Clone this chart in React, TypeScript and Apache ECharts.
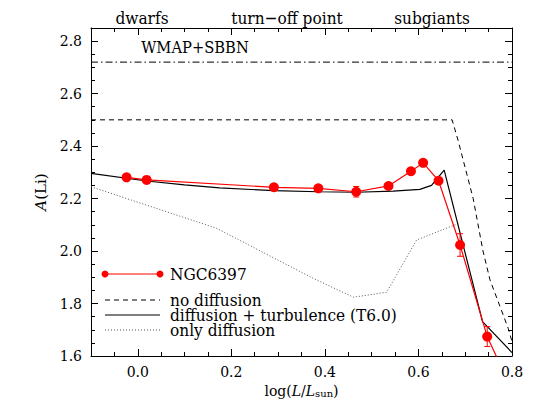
import React, { useEffect, useRef } from 'react';
import * as echarts from 'echarts';

const FONT = 'DejaVu Serif';

// Observations NGC6397
const obsX = [-0.024, 0.019, 0.291, 0.386, 0.467, 0.536, 0.584, 0.61, 0.643, 0.689, 0.747, 0.8];
const obsY = [2.281, 2.271, 2.243, 2.239, 2.226, 2.248, 2.304, 2.336, 2.268, 2.023, 1.674, 1.47];
const obsErr = [0.008, 0.008, 0.006, 0.006, 0.02, 0.008, 0.006, 0.006, 0.008, 0.043, 0.038, 0];

// diffusion + turbulence (T6.0)
const turbX = [-0.1, 0.019, 0.1, 0.175, 0.29, 0.386, 0.467, 0.546, 0.603, 0.628, 0.655, 0.737, 0.8];
const turbY = [2.296, 2.267, 2.252, 2.241, 2.23, 2.226, 2.224, 2.228, 2.235, 2.25, 2.308, 1.731, 1.613];

// only diffusion
const onlyX = [-0.1, 0.168, 0.375, 0.461, 0.532, 0.596, 0.687];
const onlyY = [2.245, 2.087, 1.896, 1.824, 1.843, 2.042, 2.106];

// no diffusion
const noX = [-0.1, 0.672, 0.685, 0.717, 0.738, 0.753, 0.792, 0.8];
const noY = [2.5, 2.5, 2.42, 2.2, 2.0, 1.89, 1.705, 1.655];

// WMAP+SBBN
const wmapX = [-0.1, 0.8];
const wmapY = [2.72, 2.72];

const xTicks = [0.0, 0.2, 0.4, 0.6, 0.8];
const yTicks = [1.6, 1.8, 2.0, 2.2, 2.4, 2.6, 2.8];
const topLabels = ['dwarfs', 'turn\u2212off point', 'subgiants'];
const legendNames = ['NGC6397', 'no diffusion', 'diffusion + turbulence (T6.0)', 'only diffusion'];

const X_MIN = -0.1, X_MAX = 0.8, Y_MIN = 1.6, Y_MAX = 2.85;

const zip = (xs: number[], ys: number[]) => xs.map((x, i) => [x, ys[i]]);

function buildOption() {
  const lineStyle = { color: '#000', width: 1 };
  const majorX = (pos: 'bottom' | 'top', labels: boolean) => ({
    type: 'value', position: pos, min: X_MIN, max: X_MAX,
    axisLine: { show: true, onZero: false, lineStyle },
    axisTick: { show: true, inside: true, length: 7, customValues: xTicks, lineStyle },
    axisLabel: labels
      ? { show: true, customValues: xTicks, formatter: (v: number) => v.toFixed(1), fontFamily: FONT, fontSize: 14, color: '#000', margin: 9 }
      : { show: false },
    splitLine: { show: false },
  });
  const minorX = (pos: 'bottom' | 'top') => ({
    type: 'value', position: pos, min: X_MIN, max: X_MAX, interval: 0.05,
    axisLine: { show: false, onZero: false },
    axisTick: { show: true, inside: true, length: 4, lineStyle },
    axisLabel: { show: false }, splitLine: { show: false },
  });
  const majorY = (pos: 'left' | 'right', labels: boolean) => ({
    type: 'value', position: pos, min: Y_MIN, max: Y_MAX,
    axisLine: { show: true, onZero: false, lineStyle },
    axisTick: { show: true, inside: true, length: 7, customValues: yTicks, lineStyle },
    axisLabel: labels
      ? { show: true, customValues: yTicks, formatter: (v: number) => v.toFixed(1), fontFamily: FONT, fontSize: 14, color: '#000', margin: 9 }
      : { show: false },
    splitLine: { show: false },
  });
  const minorY = (pos: 'left' | 'right') => ({
    type: 'value', position: pos, min: Y_MIN, max: Y_MAX, interval: 0.05,
    axisLine: { show: false, onZero: false },
    axisTick: { show: true, inside: true, length: 4, lineStyle },
    axisLabel: { show: false }, splitLine: { show: false },
  });

  const xMain: any = majorX('bottom', true);
  xMain.name = '{n|log(}{i|L}{n|/}{i|L}{s|sun}{n|)}';
  xMain.nameLocation = 'middle';
  xMain.nameGap = 26;
  xMain.nameTextStyle = {
    fontFamily: FONT, fontSize: 14, color: '#000',
    rich: {
      n: { fontFamily: FONT, fontSize: 14, color: '#000' },
      i: { fontFamily: FONT, fontSize: 14, fontStyle: 'italic', color: '#000' },
      s: { fontFamily: FONT, fontSize: 10, color: '#000', padding: [6, 0, 0, 0] },
    },
  };
  const yMain: any = majorY('left', true);
  yMain.name = '{i|A}{n|(Li)}';
  yMain.nameLocation = 'middle';
  yMain.nameRotate = 90;
  yMain.nameGap = 40;
  yMain.nameTextStyle = {
    fontFamily: FONT, fontSize: 15, color: '#000',
    rich: {
      n: { fontFamily: FONT, fontSize: 15, color: '#000' },
      i: { fontFamily: FONT, fontSize: 15, fontStyle: 'italic', color: '#000' },
    },
  };

  const SX = 0.88;
  const txt = (text: string, x: number, y: number, align: string, sx = SX) => ({
    type: 'text', x, y, scaleX: sx,
    style: { text, fontFamily: FONT, fontSize: 17.5, fill: '#000', lineHeight: 14, align, verticalAlign: 'middle' },
  });

  const legendX1 = 105, legendX2 = 160, legendTextX = 170;
  const rows = [274, 300, 315, 330];

  return {
    animation: false,
    backgroundColor: '#fff',
    textStyle: { fontFamily: FONT },
    grid: { left: 91, right: 29, top: 28, bottom: 59, containLabel: false },
    xAxis: [xMain, minorX('bottom'), majorX('top', false), minorX('top')],
    yAxis: [yMain, minorY('left'), majorY('right', false), minorY('right')],
    series: [
      {
        type: 'line', name: 'WMAP+SBBN', data: zip(wmapX, wmapY), showSymbol: false, clip: true,
        lineStyle: { color: '#000', width: 1, type: [7, 3, 1.5, 3] }, z: 2,
      },
      {
        type: 'line', name: legendNames[1], data: zip(noX, noY), showSymbol: false, clip: true,
        lineStyle: { color: '#000', width: 1, type: [5, 4] }, z: 2,
      },
      {
        type: 'line', name: legendNames[3], data: zip(onlyX, onlyY), showSymbol: false, clip: true,
        lineStyle: { color: '#555', width: 1, type: [1, 2] }, z: 2,
      },
      {
        type: 'line', name: legendNames[2], data: zip(turbX, turbY), showSymbol: false, clip: true,
        lineStyle: { color: '#000', width: 1.2 }, z: 3,
      },
      {
        type: 'custom', name: 'err', clip: true, z: 4,
        data: obsX.map((x, i) => [x, obsY[i] - obsErr[i], obsY[i] + obsErr[i]]),
        encode: { x: 0, y: [1, 2] },
        renderItem: (params: any, api: any) => {
          const x = api.value(0);
          const p1 = api.coord([x, api.value(1)]);
          const p2 = api.coord([x, api.value(2)]);
          const w = 3;
          const st = { stroke: '#f00', lineWidth: 1 };
          return {
            type: 'group',
            children: [
              { type: 'line', shape: { x1: p1[0], y1: p1[1], x2: p2[0], y2: p2[1] }, style: st },
              { type: 'line', shape: { x1: p1[0] - w, y1: p1[1], x2: p1[0] + w, y2: p1[1] }, style: st },
              { type: 'line', shape: { x1: p2[0] - w, y1: p2[1], x2: p2[0] + w, y2: p2[1] }, style: st },
            ],
          };
        },
      },
      {
        type: 'line', name: legendNames[0], data: zip(obsX, obsY), clip: true,
        symbol: 'circle', symbolSize: 10, showAllSymbol: true,
        itemStyle: { color: '#f00' },
        lineStyle: { color: '#f00', width: 1.2 }, z: 5,
      },
    ],
    graphic: [
      txt(topLabels[0], 142, 18, 'center'),
      txt(topLabels[1], 287, 18, 'center'),
      txt(topLabels[2], 432, 18, 'center'),
      txt('WMAP+SBBN', 195, 47, 'center', 0.84),
      // legend
      { type: 'line', shape: { x1: legendX1, y1: rows[0], x2: legendX2, y2: rows[0] }, style: { stroke: '#f00', lineWidth: 1.2 } },
      { type: 'circle', shape: { cx: legendX1, cy: rows[0], r: 3.5 }, style: { fill: '#f00' } },
      { type: 'circle', shape: { cx: legendX2, cy: rows[0], r: 3.5 }, style: { fill: '#f00' } },
      txt(legendNames[0], legendTextX, rows[0], 'left'),
      { type: 'line', shape: { x1: legendX1, y1: rows[1], x2: legendX2, y2: rows[1] }, style: { stroke: '#000', lineWidth: 1, lineDash: [5, 4] } },
      txt(legendNames[1], legendTextX, rows[1], 'left'),
      { type: 'line', shape: { x1: legendX1, y1: rows[2], x2: legendX2, y2: rows[2] }, style: { stroke: '#000', lineWidth: 1.2 } },
      txt(legendNames[2], legendTextX, rows[2], 'left'),
      { type: 'line', shape: { x1: legendX1, y1: rows[3], x2: legendX2, y2: rows[3] }, style: { stroke: '#555', lineWidth: 1, lineDash: [1, 2] } },
      txt(legendNames[3], legendTextX, rows[3], 'left'),
    ],
  };
}

export default function App() {
  const ref = useRef<HTMLDivElement>(null);
  useEffect(() => {
    if (!ref.current) return;
    const chart = echarts.init(ref.current, null, { renderer: 'svg' });
    chart.setOption(buildOption() as any);
    return () => chart.dispose();
  }, []);
  return <div ref={ref} style={{ position: 'fixed', left: 0, top: 0, width: 541, height: 415 }} />;
}
